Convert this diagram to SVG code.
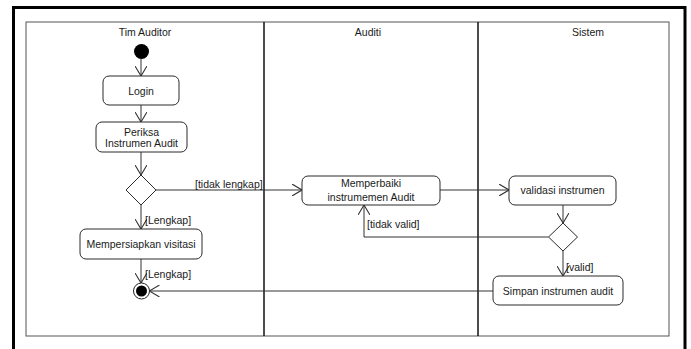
<svg xmlns="http://www.w3.org/2000/svg" width="691" height="349" viewBox="0 0 691 349">
  <style>
    text { font-family: "Liberation Sans", Arial, sans-serif; font-size: 10.5px; fill: #1a1a1a; }
    .c { text-anchor: middle; }
    .act { fill: #ffffff; stroke: #2a2a2a; stroke-width: 1; }
    .dec { fill: #ffffff; stroke: #2a2a2a; stroke-width: 1; }
    .edge { fill: none; stroke: #333333; stroke-width: 1; }
    .lane { fill: none; stroke: #555555; stroke-width: 1; }
    .div { stroke: #111111; stroke-width: 1.5; }
  </style>
  <defs>
    <marker id="open" viewBox="0 0 10 12" refX="10" refY="6" markerWidth="10" markerHeight="12.5" markerUnits="userSpaceOnUse" orient="auto">
      <path d="M0,0 L10,6 L0,12" fill="none" stroke="#333333" stroke-width="1.1"/>
    </marker>
  </defs>

  <rect x="0" y="0" width="691" height="349" fill="#ffffff"/>
  <!-- frame -->
  <rect x="13.5" y="7.5" width="671.5" height="360" fill="none" stroke="#000000" stroke-width="3"/>

  <!-- swimlanes -->
  <g id="lanes">
    <rect class="lane" x="26" y="22" width="643" height="314"/>
    <line class="div" x1="264" y1="22" x2="264" y2="336"/>
    <line class="div" x1="478" y1="22" x2="478" y2="336"/>
    <text class="c" x="145" y="35.5">Tim Auditor</text>
    <text class="c" x="368" y="35.5">Auditi</text>
    <text class="c" x="588" y="35.5">Sistem</text>
  </g>

  <!-- connectors -->
  <g id="connectors">
    <line class="edge" x1="141" y1="59" x2="141" y2="76" marker-end="url(#open)"/>
    <line class="edge" x1="141" y1="105" x2="141" y2="122" marker-end="url(#open)"/>
    <line class="edge" x1="141" y1="152" x2="141" y2="175" marker-end="url(#open)"/>
    <line class="edge" x1="156" y1="190" x2="302" y2="190" marker-end="url(#open)"/>
    <line class="edge" x1="440" y1="190" x2="509" y2="190" marker-end="url(#open)"/>
    <line class="edge" x1="563" y1="205" x2="563" y2="223" marker-end="url(#open)"/>
    <polyline class="edge" points="548.5,237 364,237 364,205" marker-end="url(#open)"/>
    <line class="edge" x1="563" y1="251" x2="563" y2="276" marker-end="url(#open)"/>
    <line class="edge" x1="141" y1="205" x2="141" y2="229" marker-end="url(#open)"/>
    <line class="edge" x1="141" y1="259" x2="141" y2="283" marker-end="url(#open)"/>
    <line class="edge" x1="493" y1="291" x2="149.5" y2="291" marker-end="url(#open)"/>
    <text x="195" y="188">[tidak lengkap]</text>
    <text x="145" y="224">[Lengkap]</text>
    <text x="145" y="278">[Lengkap]</text>
    <text x="367" y="228">[tidak valid]</text>
    <text x="566" y="271">[valid]</text>
  </g>

  <!-- nodes -->
  <g id="start">
    <circle cx="141.5" cy="51.5" r="7.5" fill="#000000"/>
  </g>
  <g id="login">
    <rect class="act" x="103" y="76" width="76" height="29" rx="6"/>
    <text class="c" x="141" y="95">Login</text>
  </g>
  <g id="periksa">
    <rect class="act" x="96" y="122" width="91" height="30" rx="6"/>
    <text class="c" x="141.5" y="135.5">Periksa</text>
    <text class="c" x="141.5" y="147">Instrumen Audit</text>
  </g>
  <g id="cek-lengkap">
    <polygon class="dec" points="141,175 156,190 141,205 126,190"/>
  </g>
  <g id="mempersiapkan">
    <rect class="act" x="80" y="229" width="122" height="30" rx="6"/>
    <text class="c" x="141" y="248">Mempersiapkan visitasi</text>
  </g>
  <g id="end">
    <circle cx="141.5" cy="291" r="8" fill="#ffffff" stroke="#222222" stroke-width="1"/>
    <circle cx="141.5" cy="291" r="5.5" fill="#000000"/>
  </g>
  <g id="memperbaiki">
    <rect class="act" x="302" y="176" width="138" height="29" rx="6"/>
    <text class="c" x="371" y="186.5">Memperbaiki</text>
    <text class="c" x="371" y="200.5">instrumemen Audit</text>
  </g>
  <g id="validasi">
    <rect class="act" x="509" y="176" width="107" height="29" rx="6"/>
    <text class="c" x="562.5" y="194">validasi instrumen</text>
  </g>
  <g id="cek-valid">
    <polygon class="dec" points="563,223 577.5,237 563,251 548.5,237"/>
  </g>
  <g id="simpan">
    <rect class="act" x="493" y="276" width="130" height="29" rx="6"/>
    <text class="c" x="558" y="294.5">Simpan instrumen audit</text>
  </g>
</svg>
